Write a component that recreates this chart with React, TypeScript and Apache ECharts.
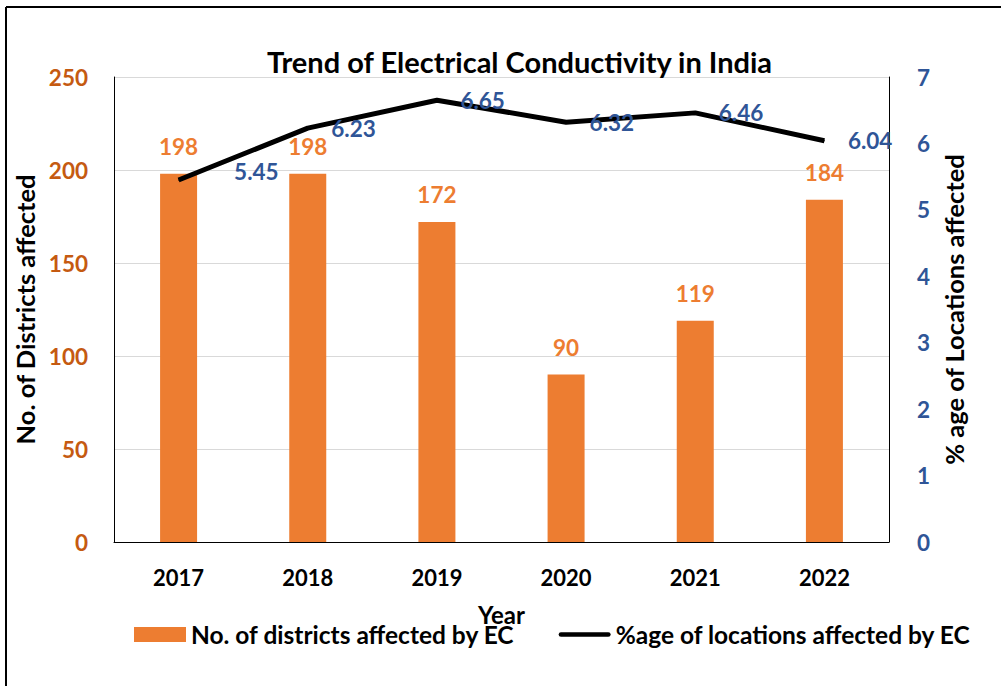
import React, { useEffect, useRef } from "react";
import * as echarts from "echarts";

const years = ["2017", "2018", "2019", "2020", "2021", "2022"];
const districts = [198, 198, 172, 90, 119, 184];
const pctLocations = [5.45, 6.23, 6.65, 6.32, 6.46, 6.04];
const leftTicks = [0, 50, 100, 150, 200, 250];
const rightTicks = [0, 1, 2, 3, 4, 5, 6, 7];

const FONT = "Lato";

export default function App() {
  const ref = useRef<HTMLDivElement>(null);
  useEffect(() => {
    if (!ref.current) return;
    const chart = echarts.init(ref.current, undefined, { renderer: "svg" });
    chart.setOption({
      animation: false,
      backgroundColor: "#fff",
      textStyle: { fontFamily: FONT },
      title: {
        text: "Trend of Electrical Conductivity in India",
        left: 262,
        top: 42,
        textStyle: { fontFamily: FONT, fontWeight: "bold", fontSize: 29, color: "#000" },
      },
      graphic: [
        { type: "line", shape: { x1: 6, y1: 7, x2: 1001, y2: 7 }, style: { stroke: "#000", lineWidth: 2 } },
        { type: "line", shape: { x1: 6, y1: 7, x2: 6, y2: 686 }, style: { stroke: "#000", lineWidth: 2 } },
      ],
      legend: {
        left: 129,
        top: 617,
        itemWidth: 52,
        itemHeight: 15,
        itemGap: 44,
        textStyle: { fontFamily: FONT, fontWeight: "bold", fontSize: 24.5, color: "#000", padding: [0, 0, 0, 0] },
        data: [
          { name: "No. of districts affected by EC", icon: "rect" },
          {
            name: "%age of locations affected by EC",
            icon: "path://M2.5,0H52.5A2.5,2.5,0,0,1,52.5,5H2.5A2.5,2.5,0,0,1,2.5,0Z",
            itemStyle: { color: "#000" },
          },
        ],
      },
      grid: { left: 114, right: 112, top: 77, bottom: 144 },
      xAxis: {
        type: "category",
        data: years,
        name: "Year",
        nameLocation: "middle",
        nameGap: 60,
        nameTextStyle: { fontFamily: FONT, fontWeight: "bold", fontSize: 24, color: "#000" },
        axisLine: { lineStyle: { color: "#000", width: 1 } },
        axisTick: { show: false },
        axisLabel: { fontFamily: FONT, fontWeight: "bold", fontSize: 22, color: "#000", margin: 24 },
      },
      yAxis: [
        {
          type: "value",
          min: leftTicks[0],
          max: leftTicks[leftTicks.length - 1],
          interval: 50,
          name: "No. of Districts affected",
          nameLocation: "middle",
          nameGap: 74,
          nameRotate: 90,
          nameTextStyle: { fontFamily: FONT, fontWeight: "bold", fontSize: 25.5, color: "#000" },
          axisLine: { show: true, lineStyle: { color: "#000", width: 1 } },
          axisTick: { show: false },
          splitLine: { lineStyle: { color: "#D9D9D9", width: 1 } },
          axisLabel: { fontFamily: FONT, fontWeight: "bold", fontSize: 22.5, color: "#C55A11", margin: 26 },
        },
        {
          type: "value",
          min: rightTicks[0],
          max: rightTicks[rightTicks.length - 1],
          interval: 1,
          name: "% age of Locations affected",
          nameLocation: "middle",
          nameGap: 52,
          nameRotate: 90,
          nameTextStyle: { fontFamily: FONT, fontWeight: "bold", fontSize: 25.5, color: "#000" },
          axisLine: { show: true, lineStyle: { color: "#000", width: 1 } },
          axisTick: { show: false },
          splitLine: { show: false },
          axisLabel: { fontFamily: FONT, fontWeight: "bold", fontSize: 22.5, color: "#2F5597", margin: 28 },
        },
      ],
      series: [
        {
          name: "No. of districts affected by EC",
          type: "bar",
          data: districts,
          barWidth: 37,
          itemStyle: { color: "#ED7D31" },
          label: {
            show: true,
            position: "top",
            distance: 16,
            fontFamily: FONT,
            fontWeight: "bold",
            fontSize: 22.5,
            color: "#ED7D31",
          },
        },
        {
          name: "%age of locations affected by EC",
          type: "line",
          yAxisIndex: 1,
          data: pctLocations.map((v, i) =>
            i === 0 ? { value: v, label: { offset: [32, -8] } } : { value: v }
          ),
          symbol: "circle",
          symbolSize: 1,
          itemStyle: { color: "#000" },
          lineStyle: { color: "#000", width: 5 },
          z: 3,
          label: {
            show: true,
            position: "right",
            distance: 23,
            fontFamily: FONT,
            fontWeight: "bold",
            fontSize: 22.5,
            color: "#2F5597",
          },
        },
      ],
    });
    return () => chart.dispose();
  }, []);
  return (
    <div
      ref={ref}
      style={{ position: "fixed", left: 0, top: 0, width: 1001, height: 686 }}
    />
  );
}
